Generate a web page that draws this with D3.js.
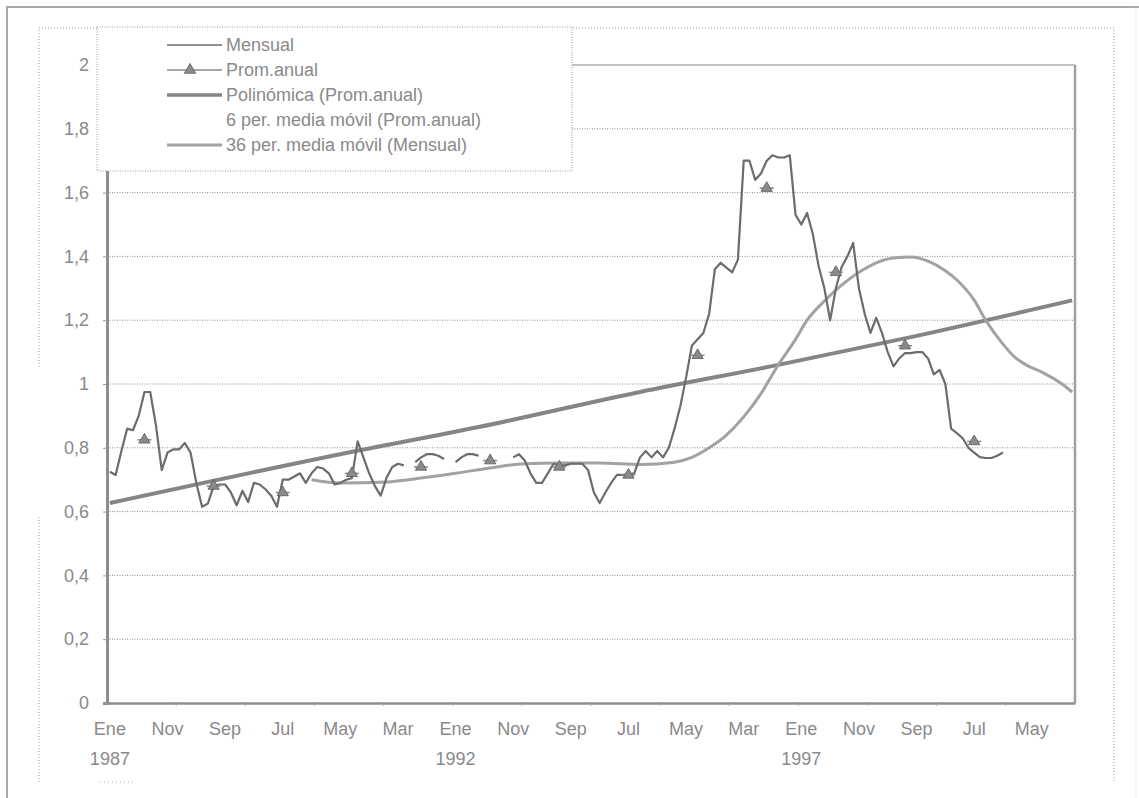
<!DOCTYPE html>
<html>
<head>
<meta charset="utf-8">
<script src="https://cdn.jsdelivr.net/npm/d3@7"></script>
<style>
  html, body { margin: 0; padding: 0; background: #fff; }
  svg { display: block; }
  text { font-family: "Liberation Sans", Arial, sans-serif; }
</style>
</head>
<body>
<svg id="chart" width="1139" height="798"></svg>
<script>
// ---- data: monthly index 0 = Ene 1987 ----
const monthCount = 168;

// Mensual (null = no data for that month)
const mensual = [
  0.725, 0.715, 0.79, 0.86, 0.855, 0.90, 0.975, 0.975, 0.87, 0.73, 0.785, 0.795,
  0.795, 0.815, 0.785, 0.69, 0.615, 0.625, 0.68, 0.685, 0.685, 0.66, 0.62, 0.665,
  0.63, 0.69, 0.685, 0.67, 0.65, 0.615, 0.70, 0.70, 0.71, 0.72, 0.69, 0.72,
  0.74, 0.735, 0.72, 0.685, 0.69, 0.70, 0.705, 0.82, 0.77, 0.72, 0.68, 0.65,
  0.705, 0.74, 0.75, 0.745, null, 0.755, 0.77, 0.78, 0.78, 0.775, 0.765, null,
  0.755, 0.77, 0.78, 0.78, 0.775, null, null, null, null, null, 0.77, 0.78,
  0.76, 0.72, 0.69, 0.69, 0.72, 0.75, 0.745, 0.745, 0.75, 0.75, 0.75, 0.73,
  0.66, 0.627, 0.66, 0.69, 0.715, 0.715, 0.715, 0.72, 0.77, 0.79, 0.77, 0.79,
  0.77, 0.80, 0.86, 0.93, 1.02, 1.12, 1.14, 1.16, 1.22, 1.36, 1.38, 1.365,
  1.35, 1.39, 1.70, 1.70, 1.64, 1.66, 1.70, 1.717, 1.71, 1.71, 1.717, 1.53,
  1.50, 1.536, 1.47, 1.37, 1.30, 1.20, 1.30, 1.367, 1.40, 1.442, 1.30, 1.22,
  1.16, 1.207, 1.16, 1.10, 1.055, 1.08, 1.097, 1.097, 1.10, 1.10, 1.08, 1.03,
  1.044, 1.0, 0.86, 0.846, 0.83, 0.80, 0.785, 0.771, 0.768, 0.768, 0.775, 0.785
];

// Prom.anual: yearly average, plotted in July of each year
const promMonths = [6, 18, 30, 42, 54, 66, 78, 90, 102, 114, 126, 138, 150];
const promValues = [0.825, 0.68, 0.66, 0.72, 0.74, 0.76, 0.74, 0.715, 1.09, 1.614, 1.35, 1.12, 0.82];

// Polinómica (Prom.anual) trendline
const trendMonths = [0, 40, 64, 92, 116, 139, 167];
const trendValues = [0.627, 0.78, 0.865, 0.975, 1.06, 1.147, 1.262];

// 36 per. media móvil (Mensual)
const ma36Months = [35, 40, 48, 54, 60, 66, 72, 78, 85, 92, 98, 101, 104, 107, 110, 113, 116, 119,
  121, 124, 127, 130, 133, 136, 139, 142, 145, 147, 150, 152, 155, 157, 159, 162, 165, 167];
const ma36Values = [0.70, 0.69, 0.693, 0.705, 0.72, 0.737, 0.75, 0.752, 0.752, 0.748, 0.755, 0.77,
  0.80, 0.84, 0.897, 0.97, 1.06, 1.14, 1.20, 1.26, 1.31, 1.35, 1.38, 1.395, 1.398, 1.385, 1.355,
  1.326, 1.263, 1.20, 1.125, 1.085, 1.06, 1.035, 1.003, 0.975];

// axis labels
const yTicks = [0, 0.2, 0.4, 0.6, 0.8, 1, 1.2, 1.4, 1.6, 1.8, 2];
const xLabelMonths = [0, 10, 20, 30, 40, 50, 60, 70, 80, 90, 100, 110, 120, 130, 140, 150, 160];
const xLabels = ["Ene", "Nov", "Sep", "Jul", "May", "Mar", "Ene", "Nov", "Sep", "Jul", "May", "Mar",
  "Ene", "Nov", "Sep", "Jul", "May"];
const yearMonths = [0, 60, 120];
const yearLabels = ["1987", "1992", "1997"];

const legendItems = [
  "Mensual",
  "Prom.anual",
  "Polinómica (Prom.anual)",
  "6 per. media móvil (Prom.anual)",
  "36 per. media móvil (Mensual)"
];

// ---- layout ----
const svg = d3.select("#chart");
const plot = { left: 107, right: 1075, top: 65, bottom: 703 };
const textColor = "#8a8a8a";

const x = d3.scaleBand()
  .domain(d3.range(monthCount))
  .range([plot.left, plot.right])
  .paddingInner(0).paddingOuter(0);
const xc = i => x(i) + x.bandwidth() / 2;

const y = d3.scaleLinear().domain([0, 2]).range([plot.bottom, plot.top]);

const es = d3.formatLocale({ decimal: ",", thousands: ".", grouping: [3], currency: ["", "€"] });
const yFmt = es.format(".1~f");

// ---- frames ----
svg.append("rect").attr("x", 0).attr("y", 0).attr("width", 1139).attr("height", 798).attr("fill", "#fff");
svg.append("path")
  .attr("d", "M7,798 V7 H1139")
  .attr("fill", "none").attr("stroke", "#a8a8a8").attr("stroke-width", 2);
svg.append("path")
  .attr("d", "M1136,7 V798")
  .attr("fill", "none").attr("stroke", "#c8c8c8").attr("stroke-width", 1).attr("stroke-dasharray", "1,2");
svg.append("path")
  .attr("d", "M39,367 V28 H1114 V783 M39,517 V783")
  .attr("fill", "none").attr("stroke", "#9a9a9a").attr("stroke-width", 1).attr("stroke-dasharray", "1,2");
svg.append("path")
  .attr("d", "M100,782 H134")
  .attr("fill", "none").attr("stroke", "#b0b0b0").attr("stroke-width", 1).attr("stroke-dasharray", "1,3");

// ---- gridlines ----
svg.append("g")
  .selectAll("line")
  .data(yTicks.filter(v => v > 0 && v < 2))
  .join("line")
  .attr("x1", plot.left).attr("x2", plot.right)
  .attr("y1", d => y(d)).attr("y2", d => y(d))
  .attr("stroke", "#8c8c8c").attr("stroke-width", 1).attr("stroke-dasharray", "1,1.5");

// plot border: top and right
svg.append("line")
  .attr("x1", plot.left).attr("x2", plot.right).attr("y1", y(2)).attr("y2", y(2))
  .attr("stroke", "#8a8a8a").attr("stroke-width", 1.2);
svg.append("line")
  .attr("x1", plot.right).attr("x2", plot.right).attr("y1", y(2)).attr("y2", plot.bottom)
  .attr("stroke", "#a0a0a0").attr("stroke-width", 2.5);

// ---- axes ----
const yAxis = svg.append("g")
  .attr("transform", `translate(${plot.left},0)`)
  .call(d3.axisLeft(y).tickValues(yTicks).tickFormat(yFmt).tickSize(4).tickPadding(14));
yAxis.select(".domain").attr("stroke", "#8e8e8e").attr("stroke-width", 3);
yAxis.selectAll(".tick line").attr("stroke", "#999");
yAxis.selectAll(".tick text").attr("fill", textColor).attr("font-size", 18);

const xAxis = svg.append("g")
  .attr("transform", `translate(0,${plot.bottom})`)
  .call(d3.axisBottom(x).tickValues(xLabelMonths)
    .tickFormat(d => xLabels[xLabelMonths.indexOf(d)]).tickSize(0).tickPadding(19));
xAxis.select(".domain").attr("stroke", "#8e8e8e").attr("stroke-width", 2.5);
xAxis.selectAll(".tick text").attr("fill", textColor).attr("font-size", 18);

const yearAxis = svg.append("g")
  .attr("transform", `translate(0,${plot.bottom})`)
  .call(d3.axisBottom(x).tickValues(yearMonths)
    .tickFormat(d => yearLabels[yearMonths.indexOf(d)]).tickSize(0).tickPadding(49));
yearAxis.select(".domain").remove();
yearAxis.selectAll(".tick text").attr("fill", textColor).attr("font-size", 18);

// small category tick marks every 12 months
svg.append("g")
  .selectAll("line")
  .data(d3.range(12, monthCount, 12))
  .join("line")
  .attr("x1", d => x(d)).attr("x2", d => x(d))
  .attr("y1", plot.bottom).attr("y2", plot.bottom + 3)
  .attr("stroke", "#aaa").attr("stroke-width", 1);

// ---- series ----
const trendLine = d3.line()
  .x((d, i) => xc(trendMonths[i])).y(d => y(d))
  .curve(d3.curveMonotoneX);
svg.append("path")
  .attr("d", trendLine(trendValues))
  .attr("fill", "none").attr("stroke", "#858585").attr("stroke-width", 4);

const maLine = d3.line()
  .x((d, i) => xc(ma36Months[i])).y(d => y(d))
  .curve(d3.curveMonotoneX);
svg.append("path")
  .attr("d", maLine(ma36Values))
  .attr("fill", "none").attr("stroke", "#a2a2a2").attr("stroke-width", 3);

const mensualLine = d3.line()
  .defined(d => d != null)
  .x((d, i) => xc(i)).y(d => y(d));
svg.append("path")
  .attr("d", mensualLine(mensual))
  .attr("fill", "none").attr("stroke", "#6c6c6c").attr("stroke-width", 2.2)
  .attr("stroke-linejoin", "round");

// Prom.anual markers: "—▲—"
const tri = d3.symbol().type(d3.symbolTriangle).size(55);
const prom = svg.append("g")
  .selectAll("g")
  .data(promValues)
  .join("g")
  .attr("transform", (d, i) => `translate(${xc(promMonths[i])},${y(d)})`);
prom.append("line")
  .attr("x1", -7).attr("x2", 7)
  .attr("stroke", "#8a8a8a").attr("stroke-width", 1.5);
prom.append("path")
  .attr("d", tri())
  .attr("fill", "#8a8a8a").attr("stroke", "#5a5a5a").attr("stroke-width", 0.8);

// ---- legend ----
const legend = svg.append("g");
legend.append("rect")
  .attr("x", 97).attr("y", 27).attr("width", 475).attr("height", 144)
  .attr("fill", "#fff").attr("stroke", "#9a9a9a").attr("stroke-width", 1)
  .attr("stroke-dasharray", "1,1.5");

const rowY = d3.scalePoint().domain(d3.range(legendItems.length)).range([45, 145]);
const rows = legend.selectAll("g.row")
  .data(legendItems)
  .join("g").attr("class", "row")
  .attr("transform", (d, i) => `translate(0,${rowY(i)})`);
rows.append("text")
  .attr("x", 226).attr("dy", "0.35em")
  .attr("fill", textColor).attr("font-size", 18)
  .text(d => d);

const sampleStyles = [
  { stroke: "#6c6c6c", width: 1.3 },
  { stroke: "#8a8a8a", width: 1.3 },
  { stroke: "#858585", width: 3.5 },
  null,
  { stroke: "#a2a2a2", width: 3 }
];
rows.each(function (d, i) {
  const s = sampleStyles[i];
  if (!s) return;
  d3.select(this).append("line")
    .attr("x1", 167).attr("x2", 222)
    .attr("stroke", s.stroke).attr("stroke-width", s.width);
  if (i === 1) {
    d3.select(this).append("path")
      .attr("transform", "translate(190,0)")
      .attr("d", tri())
      .attr("fill", "#8a8a8a").attr("stroke", "#5a5a5a").attr("stroke-width", 0.8);
  }
});
</script>
</body>
</html>
